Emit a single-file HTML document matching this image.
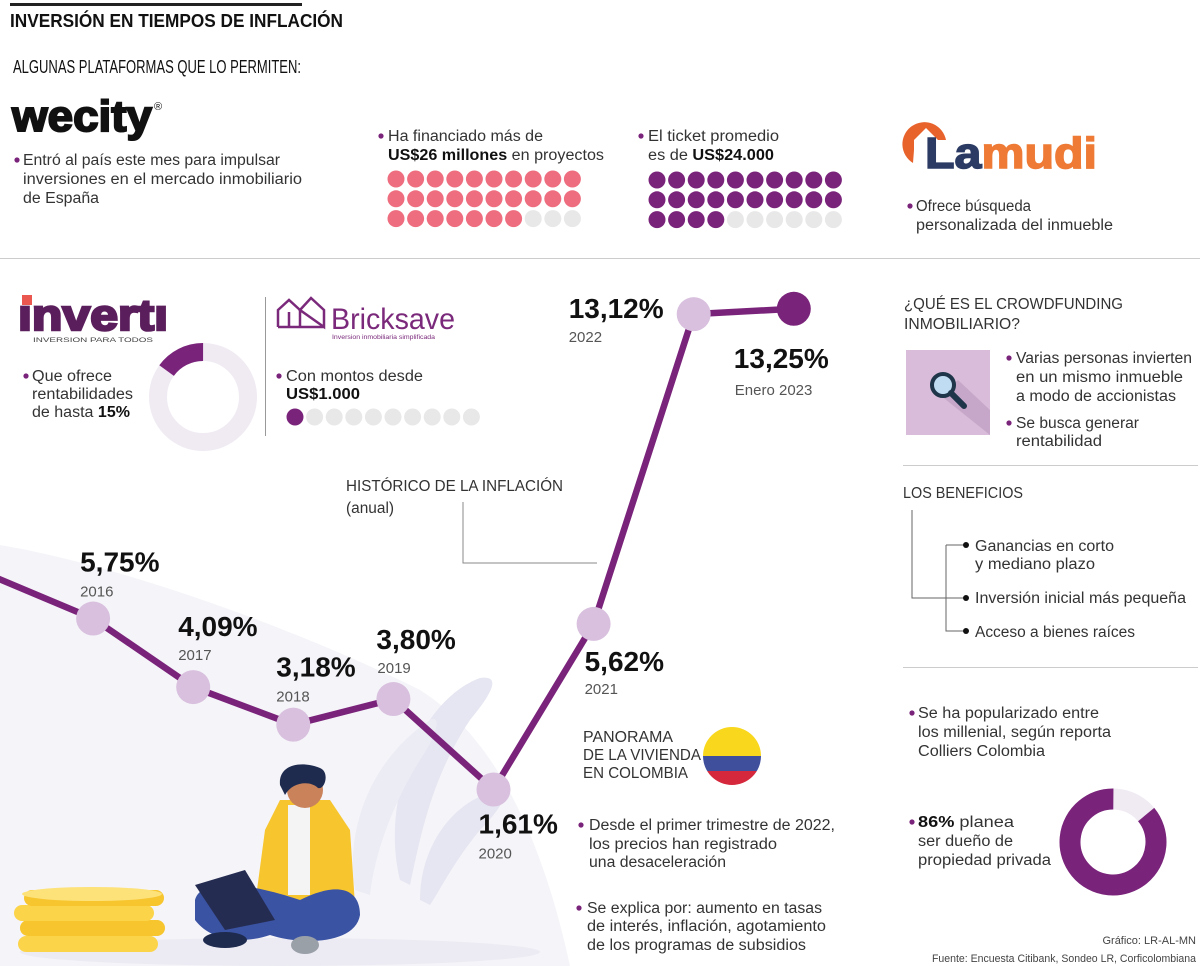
<!DOCTYPE html>
<html><head><meta charset="utf-8"><style>
html,body{margin:0;padding:0;background:#fff;}
svg{display:block;font-family:"Liberation Sans",sans-serif;}
.t{font-size:15.5px;fill:#333;}
.b{font-weight:bold;fill:#111;}
.big{font-size:28px;font-weight:bold;fill:#111;}
.yr{font-size:15px;fill:#555;}
</style></head><body>
<svg id="s" width="1200" height="966" viewBox="0 0 1200 966">
<path d="M0,545 C120,565 300,630 420,690 C500,740 545,850 570,966 L0,966 Z" fill="#f5f4f9"/>
<ellipse cx="280" cy="952" rx="260" ry="14" fill="#ecebf3"/>

<rect x="10" y="3" width="292" height="3" fill="#222"/>
<text x="10" y="27" font-size="18" font-weight="bold" fill="#111" textLength="333" lengthAdjust="spacingAndGlyphs">INVERSIÓN EN TIEMPOS DE INFLACIÓN</text>
<text x="13" y="73" font-size="18" fill="#111" textLength="288" lengthAdjust="spacingAndGlyphs">ALGUNAS PLATAFORMAS QUE LO PERMITEN:</text>

<g>
<text x="12" y="131" font-size="44" font-weight="bold" fill="#111" stroke="#111" stroke-width="2" textLength="140" lengthAdjust="spacingAndGlyphs">wecity</text>
<text x="154" y="110" font-size="11" fill="#111">®</text>
<circle cx="17" cy="160" r="2.6" fill="#7a237a"/>
<text class="t" x="23" y="165" textLength="257" lengthAdjust="spacingAndGlyphs">Entró al país este mes para impulsar</text>
<text class="t" x="23" y="184" textLength="279" lengthAdjust="spacingAndGlyphs">inversiones en el mercado inmobiliario</text>
<text class="t" x="23" y="203" textLength="76" lengthAdjust="spacingAndGlyphs">de España</text>
</g>

<g>
<circle cx="381" cy="136" r="2.6" fill="#7a237a"/>
<text class="t" x="388" y="141" textLength="155" lengthAdjust="spacingAndGlyphs">Ha financiado más de</text>
<text class="t" x="388" y="160" textLength="216" lengthAdjust="spacingAndGlyphs"><tspan class="b">US$26 millones</tspan> en proyectos</text>
<g id="pinkDots"></g>
</g>

<g>
<circle cx="641" cy="136" r="2.6" fill="#7a237a"/>
<text class="t" x="648" y="141" textLength="131" lengthAdjust="spacingAndGlyphs">El ticket promedio</text>
<text class="t" x="648" y="160" textLength="126" lengthAdjust="spacingAndGlyphs">es de <tspan class="b">US$24.000</tspan></text>
<g id="purpleDots"></g>
</g>

<g>
<path d="M913,163 A22,22 0 1 1 946,140 L938,140 L926,128 L914,140 L914,150 Z" fill="#e8622c"/>
<text x="925" y="168" font-size="44" font-weight="bold" stroke-width="1.5" textLength="172" lengthAdjust="spacingAndGlyphs"><tspan fill="#2b3b63" stroke="#2b3b63">La</tspan><tspan fill="#ee7a35" stroke="#ee7a35">mudi</tspan></text>
<circle cx="910" cy="206" r="2.6" fill="#7a237a"/>
<text class="t" x="916" y="211" textLength="115" lengthAdjust="spacingAndGlyphs">Ofrece búsqueda</text>
<text class="t" x="916" y="230" textLength="197" lengthAdjust="spacingAndGlyphs">personalizada del inmueble</text>
</g>

<rect x="0" y="258" width="1200" height="1" fill="#ccc"/>

<g>
<text x="18" y="330" font-size="44" font-weight="bold" fill="#5b1e5c" stroke="#5b1e5c" stroke-width="2.5" textLength="150" lengthAdjust="spacingAndGlyphs">ınvertı</text>
<rect x="22" y="295" width="10" height="10" fill="#e9574e"/>
<text x="33" y="342" font-size="6" fill="#444" textLength="120" lengthAdjust="spacingAndGlyphs">INVERSION PARA TODOS</text>
<circle cx="26" cy="376" r="2.6" fill="#7a237a"/>
<text class="t" x="32" y="381" textLength="80" lengthAdjust="spacingAndGlyphs">Que ofrece</text>
<text class="t" x="32" y="399" textLength="101" lengthAdjust="spacingAndGlyphs">rentabilidades</text>
<text class="t" x="32" y="417" textLength="98" lengthAdjust="spacingAndGlyphs">de hasta <tspan class="b">15%</tspan></text>
<g id="donut1"></g>
</g>
<rect x="265" y="297" width="1" height="139" fill="#999"/>

<g>
<path d="M278,327 L278,310 L289,300 L300,310 L300,327 M289,327 L289,312 M300,310 L311,298 L324,310 L324,327 Z M278,327 L324,327" fill="none" stroke="#7b2a7b" stroke-width="2.5"/>
<text x="331" y="329" font-size="30" fill="#7b2a7b" textLength="124" lengthAdjust="spacingAndGlyphs">Bricksave</text>
<text x="332" y="339" font-size="6" fill="#7b2a7b" textLength="103" lengthAdjust="spacingAndGlyphs">Inversion inmobiliaria simplificada</text>
<circle cx="279" cy="376" r="2.6" fill="#7a237a"/>
<text class="t" x="286" y="381" textLength="137" lengthAdjust="spacingAndGlyphs">Con montos desde</text>
<text class="t b" x="286" y="399" textLength="74" lengthAdjust="spacingAndGlyphs">US$1.000</text>
<g id="brickDots"></g>
</g>

<g>
<text class="t" x="346" y="491" fill="#111" textLength="217" lengthAdjust="spacingAndGlyphs">HISTÓRICO DE LA INFLACIÓN</text>
<text class="t" x="346" y="513" textLength="48" lengthAdjust="spacingAndGlyphs">(anual)</text>
<path d="M463,502 L463,563 L597,563" fill="none" stroke="#888" stroke-width="1"/>
</g>

<g>
<path d="M400,880 C380,800 420,700 480,678 C500,675 495,690 470,720 C430,780 420,840 410,885 Z" fill="#e6e6f2"/>
<path d="M420,900 C420,850 450,800 500,790 C512,790 500,810 480,830 C455,860 440,890 430,905 Z" fill="#e6e6f2"/>
<path d="M355,890 C345,830 370,760 430,720 C440,715 440,730 420,760 C395,800 375,850 370,895 Z" fill="#ececf5"/>
<g>
<rect x="20" y="920" width="145" height="16" rx="8" fill="#f7c52e"/>
<rect x="14" y="905" width="140" height="16" rx="8" fill="#fbd44a"/>
<rect x="24" y="890" width="140" height="16" rx="8" fill="#f7c52e"/>
<rect x="18" y="936" width="140" height="16" rx="8" fill="#fbd44a"/>
<ellipse cx="92" cy="894" rx="70" ry="7" fill="#fde27a"/>
</g>
<g>
<path d="M265,830 L280,800 L330,800 L350,830 L355,905 L255,905 Z" fill="#f7c52e"/>
<rect x="288" y="805" width="22" height="90" fill="#f4f4f4"/>
<circle cx="305" cy="790" r="18" fill="#c9825a"/>
<path d="M280,785 C278,765 300,760 320,768 C330,772 325,790 318,788 C310,780 292,782 285,795 Z" fill="#1e2b4f"/>
<path d="M195,900 C200,880 240,880 300,900 C340,880 360,890 360,915 C355,945 300,945 270,935 C240,945 210,940 195,920 Z" fill="#3a53a3"/>
<path d="M195,885 L245,870 L275,920 L225,930 Z" fill="#252c52"/>
<ellipse cx="225" cy="940" rx="22" ry="8" fill="#1e2b4f"/>
<ellipse cx="305" cy="945" rx="14" ry="9" fill="#9aa0a8"/>
</g>
</g>

<g id="chart"></g>

<g>
<text class="t" x="583" y="742" fill="#111" textLength="90" lengthAdjust="spacingAndGlyphs">PANORAMA</text>
<text class="t" x="583" y="760" fill="#111" textLength="118" lengthAdjust="spacingAndGlyphs">DE LA VIVIENDA</text>
<text class="t" x="583" y="778" fill="#111" textLength="105" lengthAdjust="spacingAndGlyphs">EN COLOMBIA</text>
<g>
<clipPath id="fc"><circle cx="732" cy="756" r="29"/></clipPath>
<g clip-path="url(#fc)"><rect x="700" y="725" width="64" height="31" fill="#f8d71c"/><rect x="700" y="756" width="64" height="15" fill="#3f4f9c"/><rect x="700" y="771" width="64" height="16" fill="#d6283d"/></g>
</g>
<circle cx="581" cy="825" r="2.6" fill="#7a237a"/>
<text class="t" x="589" y="830" textLength="246" lengthAdjust="spacingAndGlyphs">Desde el primer trimestre de 2022,</text>
<text class="t" x="589" y="849" textLength="188" lengthAdjust="spacingAndGlyphs">los precios han registrado</text>
<text class="t" x="589" y="867" textLength="137" lengthAdjust="spacingAndGlyphs">una desaceleración</text>
<circle cx="579" cy="908" r="2.6" fill="#7a237a"/>
<text class="t" x="587" y="913" textLength="235" lengthAdjust="spacingAndGlyphs">Se explica por: aumento en tasas</text>
<text class="t" x="587" y="931" textLength="239" lengthAdjust="spacingAndGlyphs">de interés, inflación, agotamiento</text>
<text class="t" x="587" y="950" textLength="219" lengthAdjust="spacingAndGlyphs">de los programas de subsidios</text>
</g>

<g>
<text class="t" x="904" y="309" fill="#111" textLength="219" lengthAdjust="spacingAndGlyphs">¿QUÉ ES EL CROWDFUNDING</text>
<text class="t" x="904" y="329" fill="#111" textLength="116" lengthAdjust="spacingAndGlyphs">INMOBILIARIO?</text>
<rect x="906" y="350" width="84" height="85" fill="#d8bcd9"/>
<path d="M940,395 L990,435 L990,410 L958,380 Z" fill="#c7a7c9"/>
<circle cx="943" cy="385" r="11" fill="#bfdcf3" stroke="#1f3549" stroke-width="4"/>
<line x1="951" y1="393" x2="964" y2="406" stroke="#1f3549" stroke-width="6" stroke-linecap="round"/>
<circle cx="1009" cy="358" r="2.6" fill="#7a237a"/>
<text class="t" x="1016" y="363" textLength="176" lengthAdjust="spacingAndGlyphs">Varias personas invierten</text>
<text class="t" x="1016" y="382" textLength="167" lengthAdjust="spacingAndGlyphs">en un mismo inmueble</text>
<text class="t" x="1016" y="401" textLength="160" lengthAdjust="spacingAndGlyphs">a modo de accionistas</text>
<circle cx="1009" cy="423" r="2.6" fill="#7a237a"/>
<text class="t" x="1016" y="428" textLength="123" lengthAdjust="spacingAndGlyphs">Se busca generar</text>
<text class="t" x="1016" y="446" textLength="86" lengthAdjust="spacingAndGlyphs">rentabilidad</text>
</g>
<rect x="903" y="465" width="295" height="1" fill="#ccc"/>

<g>
<text class="t" x="903" y="498" fill="#111" textLength="120" lengthAdjust="spacingAndGlyphs">LOS BENEFICIOS</text>
<path d="M912,510 L912,598 L966,598 M946,545 L946,631 L966,631 M946,545 L966,545" fill="none" stroke="#666" stroke-width="1"/>
<circle cx="966" cy="545" r="3" fill="#111"/><circle cx="966" cy="598" r="3" fill="#111"/><circle cx="966" cy="631" r="3" fill="#111"/>
<text class="t" x="975" y="551" textLength="139" lengthAdjust="spacingAndGlyphs">Ganancias en corto</text>
<text class="t" x="975" y="569" textLength="120" lengthAdjust="spacingAndGlyphs">y mediano plazo</text>
<text class="t" x="975" y="603" textLength="211" lengthAdjust="spacingAndGlyphs">Inversión inicial más pequeña</text>
<text class="t" x="975" y="637" textLength="160" lengthAdjust="spacingAndGlyphs">Acceso a bienes raíces</text>
</g>
<rect x="903" y="667" width="295" height="1" fill="#ccc"/>

<g>
<circle cx="912" cy="713" r="2.6" fill="#7a237a"/>
<text class="t" x="918" y="718" textLength="181" lengthAdjust="spacingAndGlyphs">Se ha popularizado entre</text>
<text class="t" x="918" y="737" textLength="193" lengthAdjust="spacingAndGlyphs">los millenial, según reporta</text>
<text class="t" x="918" y="756" textLength="127" lengthAdjust="spacingAndGlyphs">Colliers Colombia</text>
<circle cx="912" cy="822" r="2.6" fill="#7a237a"/>
<text class="t" x="918" y="827" textLength="96" lengthAdjust="spacingAndGlyphs"><tspan class="b">86%</tspan> planea</text>
<text class="t" x="918" y="846" textLength="95" lengthAdjust="spacingAndGlyphs">ser dueño de</text>
<text class="t" x="918" y="865" textLength="133" lengthAdjust="spacingAndGlyphs">propiedad privada</text>
<g id="donut2"></g>
</g>

<text x="1196" y="944" font-size="11" fill="#444" text-anchor="end">Gráfico: LR-AL-MN</text>
<text x="1196" y="962" font-size="11" fill="#444" text-anchor="end" textLength="264" lengthAdjust="spacingAndGlyphs">Fuente: Encuesta Citibank, Sondeo LR, Corficolombiana</text>
</svg>
<script>
const years = ["2015","2016","2017","2018","2019","2020","2021","2022","Enero 2023"];
const inflation = [6.77, 5.75, 4.09, 3.18, 3.80, 1.61, 5.62, 13.12, 13.25];
const valueLabels = ["", "5,75%","4,09%","3,18%","3,80%","1,61%","5,62%","13,12%","13,25%"];
const fundingFilled = 27, fundingTotal = 30;
const ticketFilled = 24, ticketTotal = 30;
const brickFilled = 1, brickTotal = 10;
const invertiShare = [15];
const ownerShare = [86];

const NS = "http://www.w3.org/2000/svg";
function mk(tag, attrs, parent){const e=document.createElementNS(NS,tag);for(const k in attrs)e.setAttribute(k,attrs[k]);parent.appendChild(e);return e;}
const xScale = i => -7 + i*100.1;
const yScale = v => 856 - 41.3*v;
const labelOff = [null,[-13,-47],[-15,-51],[-17,-48],[-17,-50],[-15,44],[-9,47],[-125,4],[-60,59]];
const yearOff = [null,[-13,-22],[-15,-27],[-17,-23],[-16,-26],[-15,69],[-9,70],[-125,28],[-59,86]];

function dots(id, x0, y0, filled, total, on, off){
  const g=document.getElementById(id);
  for(let i=0;i<total;i++){
    const c=mk('circle',{cx:x0+(i%10)*19.6,cy:y0+Math.floor(i/10)*19.8,r:8.5,fill:i<filled?on:off},g);
    
    
  }
}
dots('pinkDots',396,179,fundingFilled,fundingTotal,'#ee6d7f','#e8e8e8');
dots('purpleDots',657,180,ticketFilled,ticketTotal,'#7a237a','#e8e8e8');
dots('brickDots',295,417,brickFilled,brickTotal,'#7a237a','#e8e8e8');

function donut(id,cx,cy,r,w,pct,on,off){
  const g=document.getElementById(id);
  mk('circle',{cx,cy,r,fill:'none',stroke:off,'stroke-width':w},g);
  const C=2*Math.PI*r;
  const a=mk('circle',{cx,cy,r,fill:'none',stroke:on,'stroke-width':w,'stroke-dasharray':(C*pct/100)+' '+C,transform:`rotate(${-90-360*pct/100} ${cx} ${cy})`},g);
  
  
}
donut('donut1',203,397,45,18,invertiShare[0],'#7a237a','#f0eaf3');
function donutCW(id,cx,cy,r,w,pct,on,off){
  const g=document.getElementById(id);
  mk('circle',{cx,cy,r,fill:'none',stroke:off,'stroke-width':w},g);
  const C=2*Math.PI*r;
  const a=mk('circle',{cx,cy,r,fill:'none',stroke:on,'stroke-width':w,'stroke-dasharray':(C*pct/100)+' '+C,transform:`rotate(${-90+360*(100-pct)/100} ${cx} ${cy})`},g);
  
  
}
donutCW('donut2',1113,842,43,21,ownerShare[0],'#7a237a','#f0eaf3');

const chart=document.getElementById('chart');
const pts=inflation.map((v,i)=>[xScale(i),yScale(v)]);
const line=mk('polyline',{points:pts.map(p=>p.join(',')).join(' '),fill:'none',stroke:'#7a237a','stroke-width':6.5,'stroke-linejoin':'round'},chart);


pts.forEach((p,i)=>{
  if(i===0) return;
  const last=i===pts.length-1;
  const c=mk('circle',{cx:p[0],cy:p[1],r:17,fill:last?'#7a237a':'#d8c0de'},chart);
  
  
  const t=mk('text',{x:p[0]+labelOff[i][0],y:p[1]+labelOff[i][1],class:'big','font-size':last?38:28},chart);
  t.textContent=valueLabels[i];
  
  
  const y=mk('text',{x:p[0]+yearOff[i][0],y:p[1]+yearOff[i][1],class:'yr'},chart);
  y.textContent=years[i];
  
  
});
</script>
</body></html>
